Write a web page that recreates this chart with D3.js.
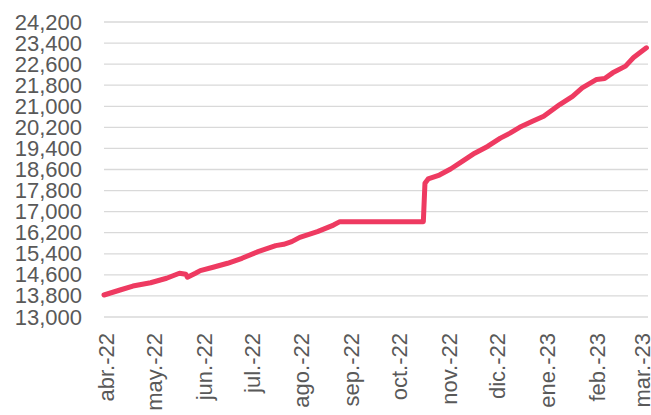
<!DOCTYPE html>
<html>
<head>
<meta charset="utf-8">
<script src="https://cdn.jsdelivr.net/npm/d3@7"></script>
<style>
  html, body { margin: 0; padding: 0; background: #fff; }
  svg { display: block; }
  text { font-family: "Liberation Sans", Arial, sans-serif; fill: #595959; }
</style>
</head>
<body>
<svg id="chart" width="651" height="415"></svg>
<script>
// Data
const dates = [
  "2022-04-01","2022-04-11","2022-04-19","2022-04-30","2022-05-10","2022-05-18",
  "2022-05-22","2022-05-23","2022-05-28","2022-05-31","2022-06-08","2022-06-17",
  "2022-06-26","2022-07-06","2022-07-17","2022-07-22","2022-07-27","2022-08-01",
  "2022-08-12","2022-08-22","2022-08-26","2022-10-17","2022-10-18","2022-10-20",
  "2022-10-27","2022-11-03","2022-11-10","2022-11-18","2022-11-26","2022-12-04",
  "2022-12-10","2022-12-16","2022-12-24","2022-12-31","2023-01-10","2023-01-18",
  "2023-01-24","2023-02-02","2023-02-07","2023-02-12","2023-02-20","2023-02-25",
  "2023-03-05"
];
const values = [
  13835,14025,14175,14300,14470,14660,
  14620,14510,14660,14760,14890,15040,
  15230,15480,15710,15760,15860,16025,
  16240,16490,16620,16620,18075,18240,
  18390,18620,18900,19220,19475,19790,
  19980,20200,20430,20620,21065,21380,
  21700,22020,22055,22270,22525,22850,
  23220
];
const yTicks = [13000,13800,14600,15400,16200,17000,17800,18600,19400,20200,21000,21800,22600,23400,24200];
const xTickDates = ["2022-04-01","2022-05-01","2022-06-01","2022-07-01","2022-08-01","2022-09-01",
  "2022-10-01","2022-11-01","2022-12-01","2023-01-01","2023-02-01","2023-03-01"];
const xTickLabels = ["abr.-22","may.-22","jun.-22","jul.-22","ago.-22","sep.-22",
  "oct.-22","nov.-22","dic.-22","ene.-23","feb.-23","mar.-23"];
const domainStart = "2022-04-01";
const domainEnd = "2023-03-06";

const parse = d3.timeParse("%Y-%m-%d");
const data = dates.map((d, i) => ({ date: parse(d), value: values[i] }));

const svg = d3.select("#chart");
const x = d3.scaleTime().domain([parse(domainStart), parse(domainEnd)]).range([104, 648]);
const y = d3.scaleLinear().domain([13000, 24200]).range([317, 22]);

// Gridlines
svg.append("g")
  .selectAll("line")
  .data(yTicks)
  .join("line")
  .attr("x1", 104).attr("x2", 648)
  .attr("y1", d => y(d)).attr("y2", d => y(d))
  .attr("stroke", "#d9d9d9")
  .attr("stroke-width", 1.3);

// Y axis labels
const yAxis = d3.axisLeft(y).tickValues(yTicks).tickFormat(d3.format(",")).tickSize(0).tickPadding(0);
const gy = svg.append("g").attr("transform", "translate(82,0)").call(yAxis);
gy.select(".domain").remove();
gy.selectAll("text")
  .attr("font-size", 22)
  .attr("font-family", "Liberation Sans, Arial, sans-serif")
  .attr("fill", "#595959")
  .attr("x", 0);

// X axis labels (rotated)
const gx = svg.append("g");
gx.selectAll("text")
  .data(xTickDates.map((d, i) => ({ date: parse(d), label: xTickLabels[i] })))
  .join("text")
  .attr("transform", d => `translate(${x(d.date) + 2},333) rotate(-90)`)
  .attr("text-anchor", "end")
  .attr("dy", "0.35em")
  .attr("font-size", 22)
  .text(d => d.label);

// Line
const line = d3.line().x(d => x(d.date)).y(d => y(d.value));
svg.append("path")
  .datum(data)
  .attr("d", line)
  .attr("fill", "none")
  .attr("stroke", "#EE3A61")
  .attr("stroke-width", 5)
  .attr("stroke-linejoin", "round")
  .attr("stroke-linecap", "round");
</script>
</body>
</html>
